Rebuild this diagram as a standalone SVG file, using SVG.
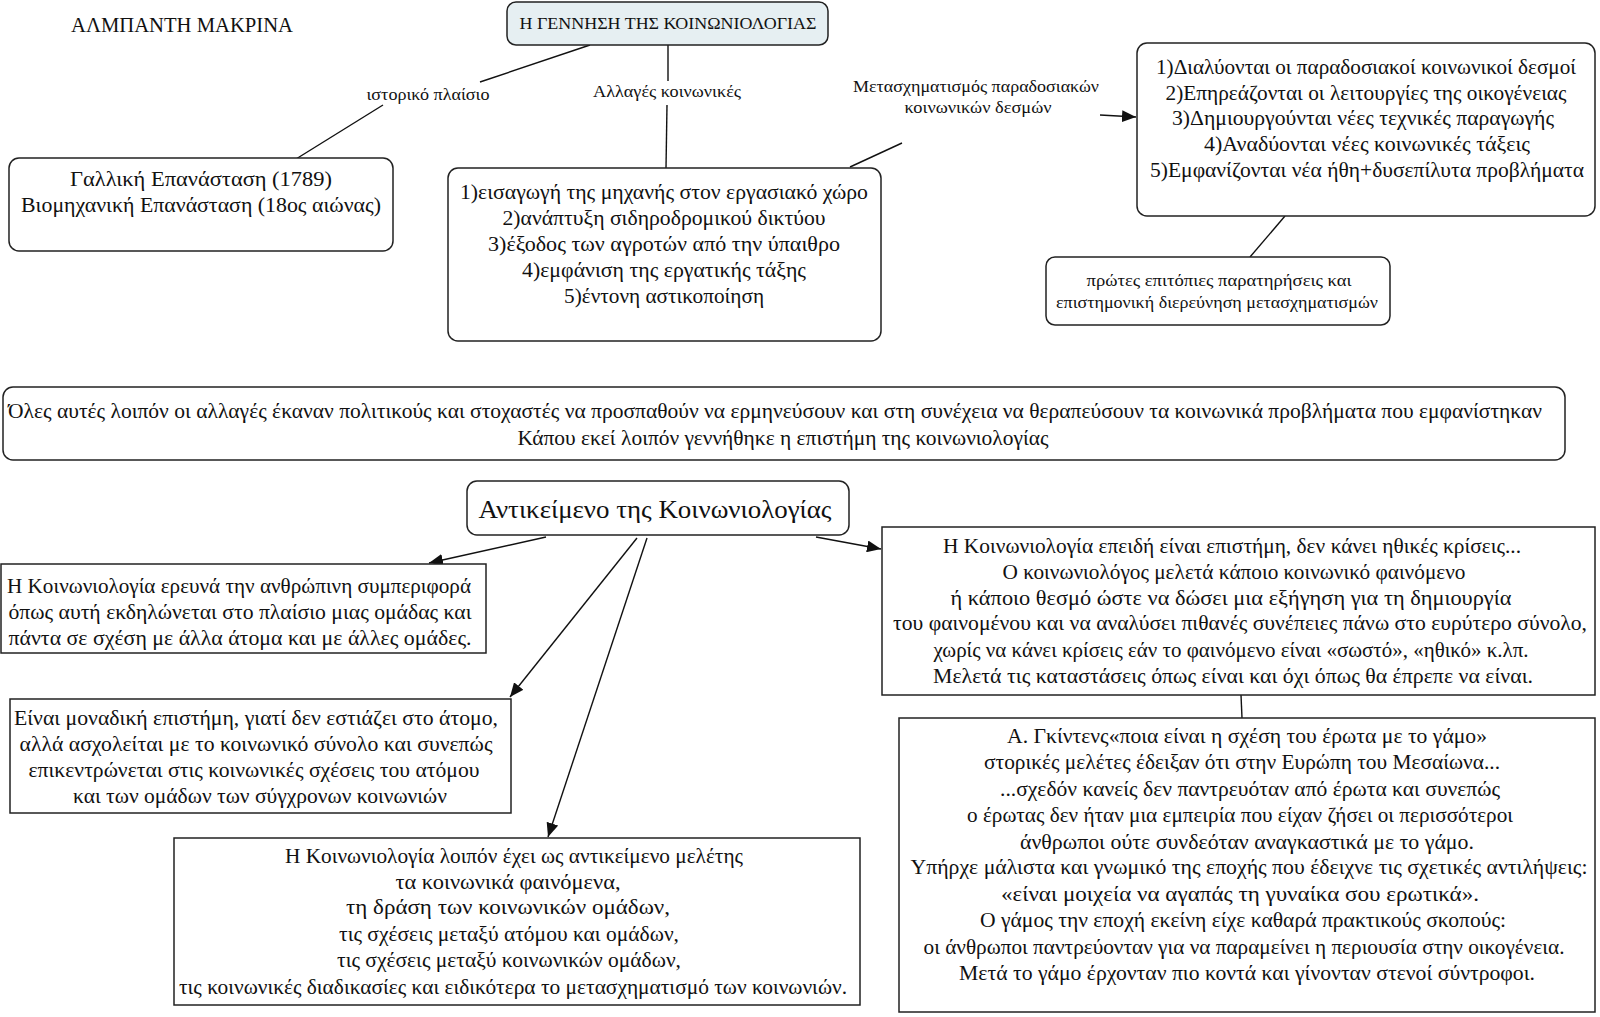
<svg xmlns="http://www.w3.org/2000/svg" width="1600" height="1017" viewBox="0 0 1600 1017">
<style>
text{font-family:"Liberation Serif","DejaVu Serif",serif;fill:#111;}
.t{font-size:20px;text-anchor:middle;}
.s{font-size:16px;text-anchor:middle;}
.box{fill:#fff;stroke:#222;stroke-width:1.5;}
.top{fill:#e6eff2;stroke:#222;stroke-width:1.5;}
.ln{stroke:#111;stroke-width:1.4;fill:none;}
.ar{stroke:#111;stroke-width:1.4;fill:none;marker-end:url(#ah);}
</style>
<defs>
<marker id="ah" markerUnits="userSpaceOnUse" markerWidth="16" markerHeight="12" refX="14" refY="6" orient="auto">
<path d="M0,0 L14,6 L0,12 Z" fill="#111"/>
</marker>
</defs>

<text x="71" y="32" style="font-size:20px" textLength="222" lengthAdjust="spacingAndGlyphs">ΑΛΜΠΑΝΤΗ ΜΑΚΡΙΝΑ</text>

<g id="connectors">
<line class="ln" x1="590" y1="45" x2="480" y2="82"/>
<line class="ln" x1="383" y1="105" x2="296" y2="159"/>
<line class="ln" x1="668" y1="45" x2="668" y2="81"/>
<line class="ln" x1="667" y1="105" x2="666" y2="168"/>
<line class="ln" x1="850" y1="167" x2="902" y2="143"/>
<line class="ar" x1="1100" y1="115" x2="1136" y2="117"/>
<line class="ln" x1="1285" y1="216" x2="1250" y2="257"/>
<line class="ar" x1="546" y1="537" x2="429" y2="563"/>
<line class="ar" x1="637" y1="538" x2="510" y2="697"/>
<line class="ar" x1="647" y1="538" x2="548" y2="837"/>
<line class="ar" x1="816" y1="537" x2="881" y2="549"/>
<line class="ln" x1="1241" y1="695" x2="1242" y2="718"/>
<text class="s" x="428" y="100" textLength="123" lengthAdjust="spacingAndGlyphs">ιστορικό πλαίσιο</text>
<text class="s" x="667" y="97" textLength="148" lengthAdjust="spacingAndGlyphs">Αλλαγές κοινωνικές</text>
<text class="s" x="976" y="92" textLength="246" lengthAdjust="spacingAndGlyphs">Μετασχηματισμός παραδοσιακών</text>
<text class="s" x="978" y="113" textLength="147" lengthAdjust="spacingAndGlyphs">κοινωνικών δεσμών</text>
</g>

<g id="node-title">
<rect class="top" x="507" y="2" width="321" height="43" rx="9"/>
<text class="s" x="668" y="29" style="font-size:17px" textLength="297" lengthAdjust="spacingAndGlyphs">Η ΓΕΝΝΗΣΗ ΤΗΣ ΚΟΙΝΩΝΙΟΛΟΓΙΑΣ</text>
</g>

<g id="node-history">
<rect class="box" x="9" y="158" width="384" height="93" rx="10"/>
<text class="t" x="201" y="186" textLength="262" lengthAdjust="spacingAndGlyphs">Γαλλική Επανάσταση (1789)</text>
<text class="t" x="201" y="212" textLength="360" lengthAdjust="spacingAndGlyphs">Βιομηχανική Επανάσταση (18ος αιώνας)</text>
</g>

<g id="node-changes">
<rect class="box" x="448" y="168" width="433" height="173" rx="10"/>
<text class="t" x="664" y="199" textLength="408" lengthAdjust="spacingAndGlyphs">1)εισαγωγή της μηχανής στον εργασιακό χώρο</text>
<text class="t" x="664" y="225" textLength="323" lengthAdjust="spacingAndGlyphs">2)ανάπτυξη σιδηροδρομικού δικτύου</text>
<text class="t" x="664" y="251" textLength="352" lengthAdjust="spacingAndGlyphs">3)έξοδος των αγροτών από την ύπαιθρο</text>
<text class="t" x="664" y="277" textLength="284" lengthAdjust="spacingAndGlyphs">4)εμφάνιση της εργατικής τάξης</text>
<text class="t" x="664" y="303" textLength="200" lengthAdjust="spacingAndGlyphs">5)έντονη αστικοποίηση</text>
</g>

<g id="node-transform">
<rect class="box" x="1137" y="43" width="458" height="173" rx="10"/>
<text class="t" x="1366" y="74" textLength="420" lengthAdjust="spacingAndGlyphs">1)Διαλύονται οι παραδοσιακοί κοινωνικοί δεσμοί</text>
<text class="t" x="1366" y="100" textLength="401" lengthAdjust="spacingAndGlyphs">2)Επηρεάζονται οι λειτουργίες της οικογένειας</text>
<text class="t" x="1363" y="125" textLength="382" lengthAdjust="spacingAndGlyphs">3)Δημιουργούνται νέες τεχνικές παραγωγής</text>
<text class="t" x="1367" y="151" textLength="326" lengthAdjust="spacingAndGlyphs">4)Αναδύονται νέες κοινωνικές τάξεις</text>
<text class="t" x="1367" y="177" textLength="434" lengthAdjust="spacingAndGlyphs">5)Εμφανίζονται νέα ήθη+δυσεπίλυτα προβλήματα</text>
</g>

<g id="node-research">
<rect class="box" x="1046" y="257" width="344" height="68" rx="9"/>
<text class="s" x="1219" y="286" textLength="265" lengthAdjust="spacingAndGlyphs">πρώτες επιτόπιες παρατηρήσεις και</text>
<text class="s" x="1217" y="308" textLength="322" lengthAdjust="spacingAndGlyphs">επιστημονική διερεύνηση μετασχηματισμών</text>
</g>

<g id="node-summary">
<rect class="box" x="3" y="387" width="1562" height="73" rx="10"/>
<text class="t" x="775" y="418" textLength="1534" lengthAdjust="spacingAndGlyphs">Όλες αυτές λοιπόν οι αλλαγές έκαναν πολιτικούς και στοχαστές να προσπαθούν να ερμηνεύσουν και στη συνέχεια να θεραπεύσουν τα κοινωνικά προβλήματα που εμφανίστηκαν</text>
<text class="t" x="783" y="445" textLength="531" lengthAdjust="spacingAndGlyphs">Κάπου εκεί λοιπόν γεννήθηκε η επιστήμη της κοινωνιολογίας</text>
</g>

<g id="node-object">
<rect class="box" x="467" y="481" width="382" height="54" rx="10"/>
<text class="t" x="655" y="518" style="font-size:26px" textLength="353" lengthAdjust="spacingAndGlyphs">Αντικείμενο της Κοινωνιολογίας</text>
</g>

<g id="node-behaviour">
<rect class="box" x="1" y="564" width="485" height="89"/>
<text class="t" x="239" y="593" textLength="464" lengthAdjust="spacingAndGlyphs">Η Κοινωνιολογία ερευνά την ανθρώπινη συμπεριφορά</text>
<text class="t" x="240" y="619" textLength="463" lengthAdjust="spacingAndGlyphs">όπως αυτή εκδηλώνεται στο πλαίσιο μιας ομάδας και</text>
<text class="t" x="240" y="645" textLength="463" lengthAdjust="spacingAndGlyphs">πάντα σε σχέση με άλλα άτομα και με άλλες ομάδες.</text>
</g>

<g id="node-unique">
<rect class="box" x="10" y="699" width="501" height="114"/>
<text class="t" x="256" y="725" textLength="484" lengthAdjust="spacingAndGlyphs">Είναι μοναδική επιστήμη, γιατί δεν εστιάζει στο άτομο,</text>
<text class="t" x="256" y="751" textLength="473" lengthAdjust="spacingAndGlyphs">αλλά ασχολείται με το κοινωνικό σύνολο και συνεπώς</text>
<text class="t" x="254" y="777" textLength="451" lengthAdjust="spacingAndGlyphs">επικεντρώνεται στις κοινωνικές σχέσεις του ατόμου</text>
<text class="t" x="260" y="803" textLength="374" lengthAdjust="spacingAndGlyphs">και των ομάδων των σύγχρονων κοινωνιών</text>
</g>

<g id="node-subject">
<rect class="box" x="174" y="838" width="686" height="167"/>
<text class="t" x="514" y="863" textLength="458" lengthAdjust="spacingAndGlyphs">Η Κοινωνιολογία λοιπόν έχει ως αντικείμενο μελέτης</text>
<text class="t" x="508" y="889" textLength="225" lengthAdjust="spacingAndGlyphs">τα κοινωνικά φαινόμενα,</text>
<text class="t" x="508" y="914" textLength="324" lengthAdjust="spacingAndGlyphs">τη δράση των κοινωνικών ομάδων,</text>
<text class="t" x="509" y="941" textLength="340" lengthAdjust="spacingAndGlyphs">τις σχέσεις μεταξύ ατόμου και ομάδων,</text>
<text class="t" x="509" y="967" textLength="344" lengthAdjust="spacingAndGlyphs">τις σχέσεις μεταξύ κοινωνικών ομάδων,</text>
<text class="t" x="513" y="994" textLength="668" lengthAdjust="spacingAndGlyphs">τις κοινωνικές διαδικασίες και ειδικότερα το μετασχηματισμό των κοινωνιών.</text>
</g>

<g id="node-ethics">
<rect class="box" x="882" y="527" width="713" height="168"/>
<text class="t" x="1232" y="553" textLength="578" lengthAdjust="spacingAndGlyphs">Η Κοινωνιολογία επειδή είναι επιστήμη, δεν κάνει ηθικές κρίσεις...</text>
<text class="t" x="1234" y="579" textLength="463" lengthAdjust="spacingAndGlyphs">Ο κοινωνιολόγος μελετά κάποιο κοινωνικό φαινόμενο</text>
<text class="t" x="1231" y="605" textLength="561" lengthAdjust="spacingAndGlyphs">ή κάποιο θεσμό ώστε να δώσει μια εξήγηση για τη δημιουργία</text>
<text class="t" x="1240" y="630" textLength="694" lengthAdjust="spacingAndGlyphs">του φαινομένου και να αναλύσει πιθανές συνέπειες πάνω στο ευρύτερο σύνολο,</text>
<text class="t" x="1231" y="657" textLength="595" lengthAdjust="spacingAndGlyphs">χωρίς να κάνει κρίσεις εάν το φαινόμενο είναι «σωστό», «ηθικό» κ.λπ.</text>
<text class="t" x="1233" y="683" textLength="600" lengthAdjust="spacingAndGlyphs">Μελετά τις καταστάσεις όπως είναι και όχι όπως θα έπρεπε να είναι.</text>
</g>

<g id="node-giddens">
<rect class="box" x="899" y="718" width="696" height="294"/>
<text class="t" x="1247" y="743" textLength="480" lengthAdjust="spacingAndGlyphs">Α. Γκίντενς«ποια είναι η σχέση του έρωτα με το γάμο»</text>
<text class="t" x="1242" y="769" textLength="516" lengthAdjust="spacingAndGlyphs">στορικές μελέτες έδειξαν ότι στην Ευρώπη του Μεσαίωνα...</text>
<text class="t" x="1250" y="796" textLength="500" lengthAdjust="spacingAndGlyphs">...σχεδόν κανείς δεν παντρευόταν από έρωτα και συνεπώς</text>
<text class="t" x="1240" y="822" textLength="546" lengthAdjust="spacingAndGlyphs">ο έρωτας δεν ήταν μια εμπειρία που είχαν ζήσει οι περισσότεροι</text>
<text class="t" x="1247" y="849" textLength="454" lengthAdjust="spacingAndGlyphs">άνθρωποι ούτε συνδεόταν αναγκαστικά με το γάμο.</text>
<text class="t" x="1249" y="874" textLength="677" lengthAdjust="spacingAndGlyphs">Υπήρχε μάλιστα και γνωμικό της εποχής που έδειχνε τις σχετικές αντιλήψεις:</text>
<text class="t" x="1240" y="901" textLength="478" lengthAdjust="spacingAndGlyphs">«είναι μοιχεία να αγαπάς τη γυναίκα σου ερωτικά».</text>
<text class="t" x="1243" y="927" textLength="526" lengthAdjust="spacingAndGlyphs">Ο γάμος την εποχή εκείνη είχε καθαρά πρακτικούς σκοπούς:</text>
<text class="t" x="1244" y="954" textLength="641" lengthAdjust="spacingAndGlyphs">οι άνθρωποι παντρεύονταν για να παραμείνει η περιουσία στην οικογένεια.</text>
<text class="t" x="1247" y="980" textLength="576" lengthAdjust="spacingAndGlyphs">Μετά το γάμο έρχονταν πιο κοντά και γίνονταν στενοί σύντροφοι.</text>
</g>
</svg>
